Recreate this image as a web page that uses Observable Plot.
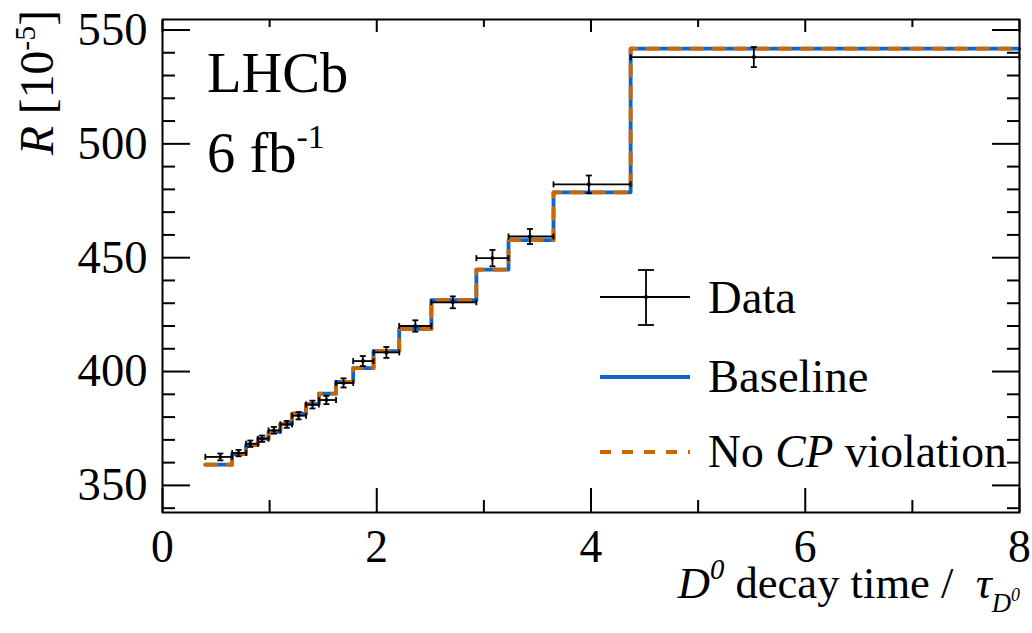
<!DOCTYPE html>
<html>
<head>
<meta charset="utf-8">
<script src="https://cdn.jsdelivr.net/npm/d3@7"></script>
<script src="https://cdn.jsdelivr.net/npm/@observablehq/plot@0.6"></script>
<style>
  html, body { margin: 0; padding: 0; background: white; }
  #wrap { position: relative; width: 1032px; height: 633px; }
  #wrap > svg { position: absolute; left: 0; top: 0; }
</style>
</head>
<body>
<div id="wrap"></div>
<script>
// ---- data ----
const binEdges = [0.40, 0.65, 0.78, 0.89, 0.99, 1.10, 1.21, 1.34, 1.46, 1.62, 1.78, 1.97, 2.21, 2.51, 2.93, 3.23, 3.65, 4.37, 8.0];
const baselineR = [359.1, 363.8, 367.8, 370.5, 373.5, 377.0, 381.5, 385.7, 390.3, 395.4, 401.5, 409.0, 418.7, 431.3, 444.8, 457.7, 478.7, 541.8];
const noCPR     = [359.1, 363.8, 367.8, 370.5, 373.5, 377.0, 381.5, 385.7, 390.3, 395.4, 401.5, 409.0, 418.7, 431.3, 444.8, 457.7, 478.7, 541.8];
const dataT   = [0.54, 0.71, 0.82, 0.93, 1.04, 1.16, 1.27, 1.40, 1.53, 1.69, 1.87, 2.09, 2.36, 2.71, 3.08, 3.43, 3.98, 5.52];
const dataR   = [362.5, 364.2, 368.3, 370.5, 374.2, 376.8, 380.6, 385.5, 387.5, 395.0, 404.6, 408.4, 420.0, 430.4, 449.8, 459.3, 482.2, 538.1];
const dataErr = [1.5, 1.4, 1.4, 1.4, 1.5, 1.5, 1.6, 1.7, 1.8, 2.0, 2.2, 2.4, 2.5, 2.6, 3.6, 3.3, 3.9, 4.4];
const xMajorTicks = [0, 2, 4, 6, 8];
const xMinorTicks = [1, 3, 5, 7];
const yMajorTicks = [350, 400, 450, 500, 550];
const yMinorTicks = [340, 360, 370, 380, 390, 410, 420, 430, 440, 460, 470, 480, 490, 510, 520, 530, 540];

// ---- pick a Times-like font if one is installed ----
function hasFont(name) {
  const ctx = document.createElement("canvas").getContext("2d");
  const s = "mmmmmmmmmmlli10WQ@#";
  for (const base of ["monospace", "sans-serif", "serif"]) {
    ctx.font = `72px ${base}`;
    const w0 = ctx.measureText(s).width;
    ctx.font = `72px "${name}", ${base}`;
    if (ctx.measureText(s).width !== w0) return true;
  }
  return false;
}
const fontCandidates = ["Liberation Serif", "Tinos", "Times New Roman", "Nimbus Roman", "Nimbus Roman No9 L", "FreeSerif", "DejaVu Serif", "Noto Serif", "Liberation Sans"];
const chosen = fontCandidates.find(hasFont);
const FONT = (chosen ? `"${chosen}", ` : "") + "serif";
// scale text so that widths match the reference ("Data" ~ 88 px wide at the reference size)
const scale = (() => {
  const ctx = document.createElement("canvas").getContext("2d");
  ctx.font = `47px ${FONT}`;
  const w = ctx.measureText("Data").width;
  return Math.max(0.8, Math.min(1.1, 88 / w));
})();
const fs = s => Math.round(s * scale * 10) / 10;

// ---- derived tables ----
const stepRows = vals => binEdges.map((e, i) => ({t: e, r: vals[Math.min(i, vals.length - 1)]}));
const rows = dataT.map((t, i) => ({t, r: dataR[i], err: dataErr[i], lo: binEdges[i], hi: binEdges[i + 1]}));

const hcap = {draw(ctx) { ctx.moveTo(-3, 0); ctx.lineTo(3, 0); }};
const vcap = {draw(ctx) { ctx.moveTo(0, -3); ctx.lineTo(0, 3); }};

const BLUE = "#0a66cc";
const ORANGE = "#cc6600";

const chart = Plot.plot({
  width: 1032,
  height: 633,
  marginLeft: 162,
  marginRight: 13,
  marginTop: 19,
  marginBottom: 121,
  style: {fontFamily: FONT, background: "white", color: "black"},
  x: {domain: [0, 8]},
  y: {domain: [338.1, 554.6]},
  marks: [
    Plot.line(stepRows(baselineR), {x: "t", y: "r", curve: "step-after", stroke: BLUE, strokeWidth: 3.8}),
    Plot.line(stepRows(noCPR), {x: "t", y: "r", curve: "step-after", stroke: ORANGE, strokeWidth: 3.8, strokeDasharray: "11,11"}),
    Plot.ruleY(rows, {y: "r", x1: "lo", x2: "hi", stroke: "black", strokeWidth: 1.8}),
    Plot.ruleX(rows, {x: "t", y1: d => d.r - d.err, y2: d => d.r + d.err, stroke: "black", strokeWidth: 1.8}),
    Plot.dot(rows, {x: "t", y: d => d.r - d.err, symbol: hcap, stroke: "black", fill: "none", strokeWidth: 1.8}),
    Plot.dot(rows, {x: "t", y: d => d.r + d.err, symbol: hcap, stroke: "black", fill: "none", strokeWidth: 1.8}),
    Plot.dot(rows, {x: "lo", y: "r", symbol: vcap, stroke: "black", fill: "none", strokeWidth: 1.8}),
    Plot.dot(rows, {x: "hi", y: "r", symbol: vcap, stroke: "black", fill: "none", strokeWidth: 1.8}),
    Plot.dot(rows, {x: "t", y: "r", r: 2, fill: "black", stroke: "none"}),
    // axes: labels
    Plot.axisX({anchor: "bottom", ticks: xMajorTicks, tickSize: 0, tickPadding: 17, fontSize: fs(46), label: null, tickFormat: d => String(d)}),
    Plot.axisY({anchor: "left", ticks: yMajorTicks, tickSize: 0, tickPadding: 15, fontSize: fs(47), label: null, tickFormat: d => String(d)}),
    // inward ticks
    Plot.axisX({anchor: "bottom", ticks: xMajorTicks, tickSize: -24, fill: "none", label: null, strokeWidth: 2}),
    Plot.axisX({anchor: "bottom", ticks: xMinorTicks, tickSize: -12, fill: "none", label: null, strokeWidth: 2}),
    Plot.axisX({anchor: "top", ticks: xMajorTicks, tickSize: -12, fill: "none", label: null, strokeWidth: 2}),
    Plot.axisX({anchor: "top", ticks: xMinorTicks, tickSize: -7, fill: "none", label: null, strokeWidth: 2}),
    Plot.axisY({anchor: "left", ticks: yMajorTicks, tickSize: -28, fill: "none", label: null, strokeWidth: 2}),
    Plot.axisY({anchor: "left", ticks: yMinorTicks, tickSize: -13, fill: "none", label: null, strokeWidth: 2}),
    Plot.axisY({anchor: "right", ticks: yMajorTicks, tickSize: -28, fill: "none", label: null, strokeWidth: 2}),
    Plot.axisY({anchor: "right", ticks: yMinorTicks, tickSize: -13, fill: "none", label: null, strokeWidth: 2}),
    Plot.frame({stroke: "black", strokeWidth: 2})
  ]
});
const wrap = document.getElementById("wrap");
wrap.appendChild(chart);

// ---- overlay: titles, labels, legend ----
const ov = d3.select(wrap).append("svg")
  .attr("width", 1032).attr("height", 633)
  .style("pointer-events", "none")
  .style("font-family", FONT).attr("fill", "black");

function rich(x, y, anchor, size, parts, transform) {
  const t = ov.append("text").attr("x", x).attr("y", y).attr("text-anchor", anchor)
    .attr("font-size", fs(size)).style("white-space", "pre").style("font-family", FONT);
  if (transform) t.attr("transform", transform);
  for (const p of parts) {
    const s = t.append("tspan").text(p.text);
    if (p.italic) s.attr("font-style", "italic");
    if (p.size) s.attr("font-size", fs(p.size));
    if (p.dy) s.attr("dy", p.dy);
    if (p.dx) s.attr("dx", p.dx);
  }
  return t;
}

// LHCb labels
rich(207, 92, "start", 57, [{text: "LHCb"}]);
rich(207, 172, "start", 57, [{text: "6 fb"}, {text: "-1", size: 34, dy: -24}]);

// y label (rotated)
rich(0, 0, "end", 48, [
  {text: "R", italic: true}, {text: " [10"}, {text: "-5", size: 30, dy: -18}, {text: "]", dy: 18}
], "translate(53,10) rotate(-90)");

// x label
rich(1020, 598, "end", 45, [
  {text: "D", italic: true}, {text: "0", italic: true, size: 29, dy: -19},
  {text: " decay time /  ", dy: 19},
  {text: "τ", italic: true},
  {text: "D", italic: true, size: 27, dy: 14},
  {text: "0", italic: true, size: 18, dy: -11}
]);

// legend
const L = ov.append("g").attr("stroke", "black").attr("stroke-width", 1.8);
L.append("line").attr("x1", 600).attr("x2", 690).attr("y1", 297).attr("y2", 297);
L.append("line").attr("x1", 646).attr("x2", 646).attr("y1", 270).attr("y2", 325);
L.append("line").attr("x1", 638).attr("x2", 654).attr("y1", 270).attr("y2", 270);
L.append("line").attr("x1", 638).attr("x2", 654).attr("y1", 325).attr("y2", 325);
L.append("circle").attr("cx", 646).attr("cy", 297).attr("r", 2).attr("fill", "black").attr("stroke", "none");
ov.append("line").attr("x1", 600).attr("x2", 690).attr("y1", 377).attr("y2", 377)
  .attr("stroke", BLUE).attr("stroke-width", 3.8);
ov.append("line").attr("x1", 600).attr("x2", 690).attr("y1", 452).attr("y2", 452)
  .attr("stroke", ORANGE).attr("stroke-width", 3.8).attr("stroke-dasharray", "11,11");
rich(708, 313, "start", 47, [{text: "Data"}]);
rich(708, 392, "start", 47, [{text: "Baseline"}]);
rich(708, 467, "start", 46, [{text: "No "}, {text: "CP", italic: true}, {text: " violation"}]);
</script>
</body>
</html>
